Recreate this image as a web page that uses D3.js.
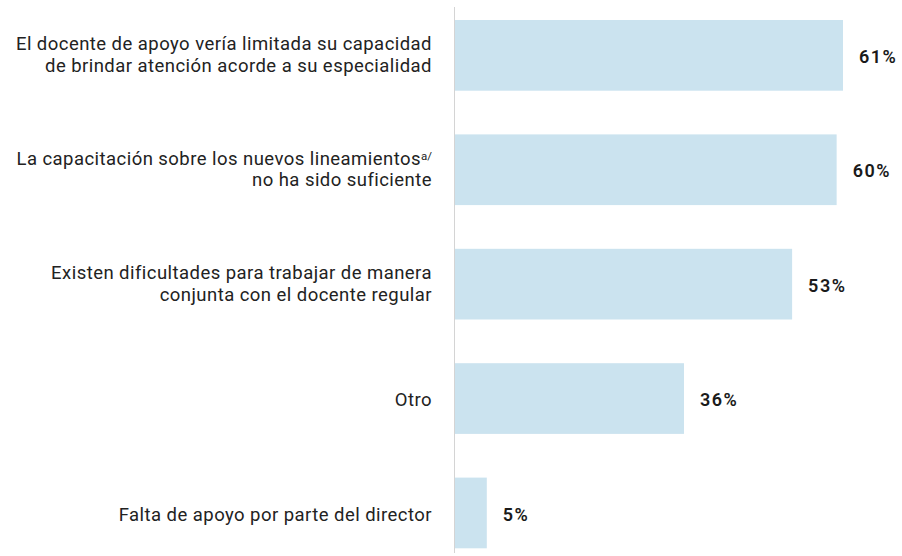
<!DOCTYPE html>
<html><head><meta charset="utf-8">
<script src="https://cdn.jsdelivr.net/npm/d3@7"></script>
<style>body{margin:0;background:#fff}svg{display:block}</style>
</head><body>
<svg id="c" width="902" height="556"></svg>
<script>
const categories = [
  "El docente de apoyo vería limitada su capacidad|de brindar atención acorde a su especialidad",
  "La capacitación sobre los nuevos lineamientos^a/|no ha sido suficiente",
  "Existen dificultades para trabajar de manera|conjunta con el docente regular",
  "Otro",
  "Falta de apoyo por parte del director"
];
const values = [61, 60, 53, 36, 5];
const valueLabels = ["61%", "60%", "53%", "36%", "5%"];

const svg = d3.select("#c");
const font = "Roboto, 'Noto Sans', sans-serif";
const x = d3.scaleLinear().domain([0, 61]).range([455, 843]);
const y = d3.scaleBand().domain(categories).range([20, 548.3]).paddingInner(0.382).paddingOuter(0);

svg.append("line").attr("x1", 454.5).attr("x2", 454.5).attr("y1", 7).attr("y2", 553)
  .attr("stroke", "#d4d4d4").attr("stroke-width", 1);

svg.selectAll("rect.bar").data(values).join("rect")
  .attr("x", x(0)).attr("y", (d, i) => y(categories[i]))
  .attr("width", d => x(d) - x(0)).attr("height", y.bandwidth())
  .attr("fill", "#cbe3ef");

svg.selectAll("text.val").data(values).join("text")
  .attr("x", d => x(d) + 16).attr("y", (d, i) => y(categories[i]) + y.bandwidth() / 2 + 7.6)
  .attr("font-family", font).attr("font-size", 18).attr("font-weight", 600)
  .attr("letter-spacing", "1.5px")
  .attr("fill", "#1a1a1a").text((d, i) => valueLabels[i]);

categories.forEach(c => {
  const lines = c.split("|");
  const cy = y(c) + y.bandwidth() / 2;
  const lh = 21.6;
  const off = lines.length > 1 ? 5.8 : 7.7;
  lines.forEach((ln, j) => {
    const yy = cy + off + (j - (lines.length - 1) / 2) * lh;
    const parts = ln.split("^");
    const t = svg.append("text").attr("text-anchor", "end").attr("font-family", font)
      .attr("font-size", 18.5).attr("letter-spacing", "0.45px").attr("fill", "#222")
      .attr("x", 432).attr("y", yy);
    t.append("tspan").text(parts[0]);
    if (parts[1]) {
      t.append("tspan").attr("font-size", 11.5).attr("dy", -5).attr("letter-spacing", "0px").text(parts[1]);
    }
  });
});
</script>
</body></html>
